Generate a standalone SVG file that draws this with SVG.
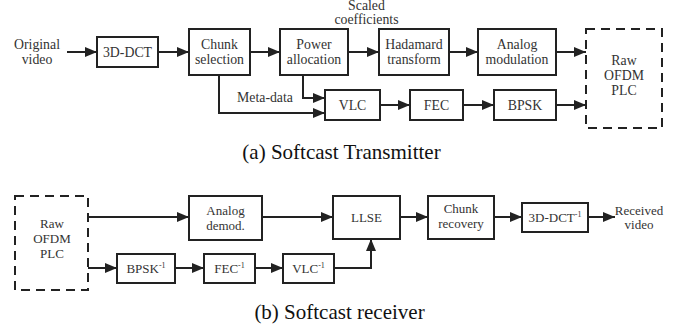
<svg xmlns="http://www.w3.org/2000/svg" width="678" height="332" viewBox="0 0 678 332">
<defs>
<marker id="ah" markerUnits="userSpaceOnUse" markerWidth="12" markerHeight="10" refX="12" refY="5" orient="auto">
<path d="M0,0 L12,5 L0,10 z" fill="#222"/>
</marker>
<style>
.box{fill:#fff;stroke:#222;stroke-width:2}
.dash{fill:#fff;stroke:#222;stroke-width:2;stroke-dasharray:9 6}
.t{font-family:"Liberation Serif",serif;font-size:13.8px;fill:#333;text-anchor:middle}
.s{font-family:"Liberation Serif",serif;font-size:13px;fill:#333;text-anchor:middle}
.cap{font-family:"Liberation Serif",serif;font-size:21px;fill:#111;text-anchor:middle}
.c{fill:none;stroke:#222;stroke-width:2;marker-end:url(#ah)}
.sup{font-size:8px}
</style>
</defs>
<rect width="678" height="332" fill="#fff"/>

<g id="connectors">
<path class="c" d="M67,52 H97"/>
<path class="c" d="M158,52 H189"/>
<path class="c" d="M250,52 H280"/>
<path class="c" d="M348,52 H379"/>
<path class="c" d="M449,52 H478"/>
<path class="c" d="M556,52 H586"/>
<path class="c" d="M303,75 V98 H325"/>
<path class="c" d="M219,75 V113 H325"/>
<path class="c" d="M380,105 H410"/>
<path class="c" d="M463,105 H494"/>
<path class="c" d="M556,105 H586"/>
<path class="c" d="M88,217 H189"/>
<path class="c" d="M262,217 H333"/>
<path class="c" d="M400,217 H428"/>
<path class="c" d="M494,217 H522"/>
<path class="c" d="M588,217 H615"/>
<path class="c" d="M88,268 H117"/>
<path class="c" d="M175,268 H204"/>
<path class="c" d="M255,268 H283"/>
<path class="c" d="M334,268 H371 V239"/>
</g>

<g id="orig-video"><text class="t" x="37" y="49">Original</text><text class="t" x="37" y="64">video</text></g>
<g id="dct"><rect class="box" x="97" y="37" width="61" height="30"/><text class="t" x="127.5" y="57">3D-DCT</text></g>
<g id="chunk-sel"><rect class="box" x="189" y="29" width="61" height="46"/><text class="t" x="219.5" y="49">Chunk</text><text class="t" x="219.5" y="64">selection</text></g>
<g id="power"><rect class="box" x="280" y="29" width="68" height="46"/><text class="t" x="314" y="49">Power</text><text class="t" x="314" y="64">allocation</text></g>
<g id="scaled"><text class="t" x="366.5" y="10" font-size="13.2">Scaled</text><text class="t" x="366.5" y="24" font-size="13.2">coefficients</text></g>
<g id="hadamard"><rect class="box" x="379" y="29" width="70" height="46"/><text class="t" x="414" y="49">Hadamard</text><text class="t" x="414" y="64">transform</text></g>
<g id="analog-mod"><rect class="box" x="478" y="29" width="78" height="46"/><text class="t" x="517" y="49">Analog</text><text class="t" x="517" y="64">modulation</text></g>
<g id="tx-plc"><rect class="dash" x="586" y="29" width="76" height="99"/><text class="t" x="624" y="65">Raw</text><text class="t" x="624" y="80">OFDM</text><text class="t" x="624" y="95">PLC</text></g>
<g id="metadata"><text class="t" x="265" y="102">Meta-data</text></g>
<g id="vlc"><rect class="box" x="325" y="90" width="55" height="30"/><text class="t" x="352.5" y="110">VLC</text></g>
<g id="fec"><rect class="box" x="410" y="90" width="53" height="30"/><text class="t" x="436.5" y="110">FEC</text></g>
<g id="bpsk"><rect class="box" x="494" y="90" width="62" height="30"/><text class="t" x="525" y="110">BPSK</text></g>
<g id="cap-a"><text class="cap" x="341.5" y="159">(a) Softcast Transmitter</text></g>

<g id="rx-plc"><rect class="dash" x="15" y="196" width="73" height="94"/><text class="s" x="52" y="228">Raw</text><text class="s" x="52" y="243">OFDM</text><text class="s" x="52" y="258">PLC</text></g>
<g id="analog-demod"><rect class="box" x="189" y="196" width="73" height="44"/><text class="s" x="225.5" y="215">Analog</text><text class="s" x="225.5" y="230">demod.</text></g>
<g id="llse"><rect class="box" x="333" y="196" width="67" height="43"/><text class="s" x="366.5" y="222">LLSE</text></g>
<g id="chunk-rec"><rect class="box" x="428" y="196" width="66" height="43"/><text class="s" x="461" y="213">Chunk</text><text class="s" x="461" y="228">recovery</text></g>
<g id="idct"><rect class="box" x="522" y="203" width="66" height="29"/><text class="s" x="555" y="222">3D-DCT<tspan class="sup" dy="-5">-1</tspan></text></g>
<g id="recv-video"><text class="s" x="639" y="215">Received</text><text class="s" x="639" y="229">video</text></g>
<g id="ibpsk"><rect class="box" x="117" y="254" width="58" height="29"/><text class="s" x="146" y="273">BPSK<tspan class="sup" dy="-5">-1</tspan></text></g>
<g id="ifec"><rect class="box" x="204" y="254" width="51" height="29"/><text class="s" x="229.5" y="273">FEC<tspan class="sup" dy="-5">-1</tspan></text></g>
<g id="ivlc"><rect class="box" x="283" y="254" width="51" height="29"/><text class="s" x="308.5" y="273">VLC<tspan class="sup" dy="-5">-1</tspan></text></g>
<g id="cap-b"><text class="cap" x="339.5" y="319">(b) Softcast receiver</text></g>
</svg>
